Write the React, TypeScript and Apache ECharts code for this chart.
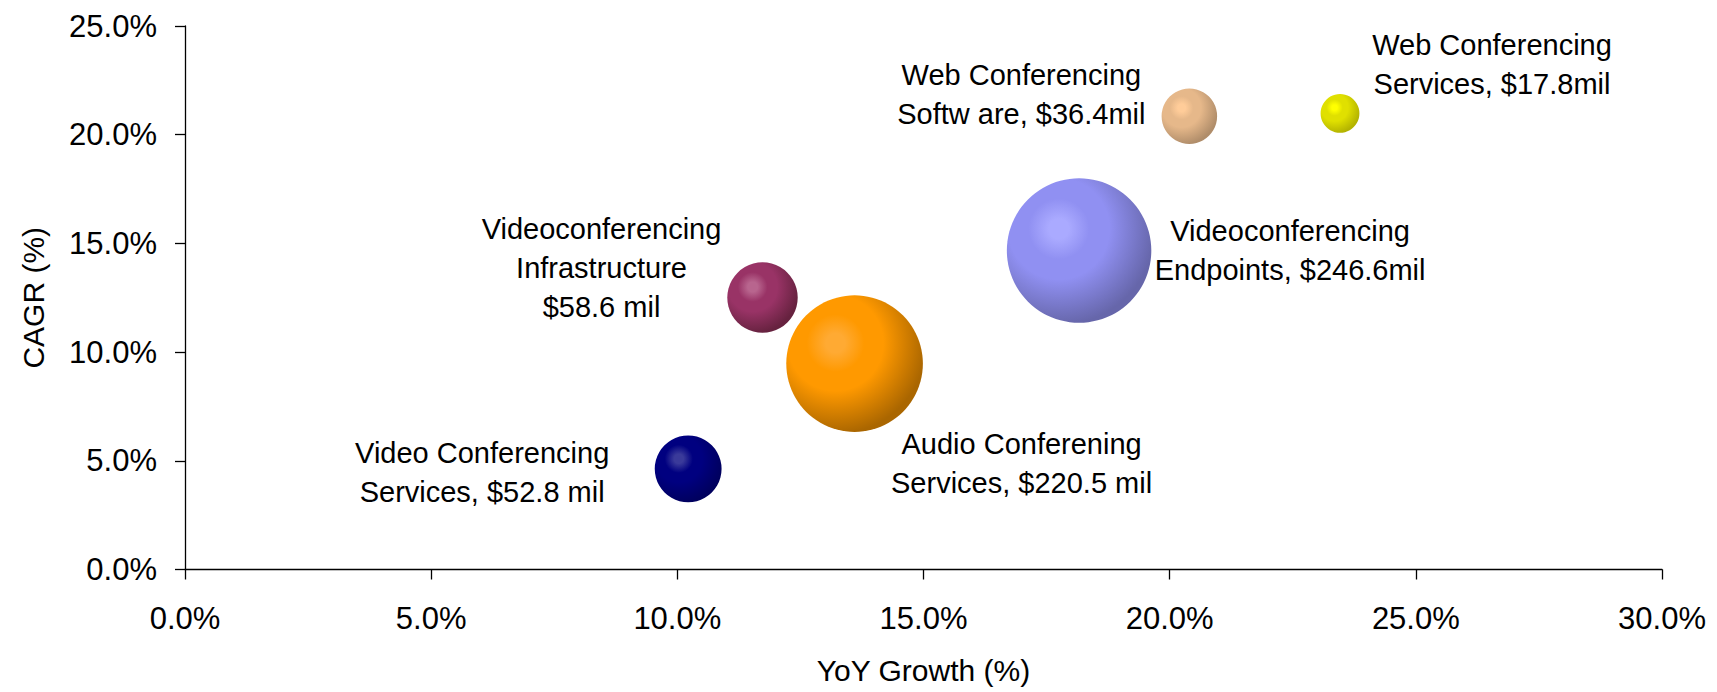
import React, { useEffect, useRef } from "react";
import * as echarts from "echarts";

// Market segments
const names = [
  "Video Conferencing\nServices, $52.8 mil",
  "Videoconferencing\nInfrastructure\n$58.6 mil",
  "Audio Conferening\nServices, $220.5 mil",
  "Videoconferencing\nEndpoints, $246.6mil",
  "Web Conferencing\nSoftw are, $36.4mil",
  "Web Conferencing\nServices, $17.8mil",
];
// YoY growth (%)
const yoyGrowth = [10.22, 11.73, 13.6, 18.16, 20.4, 23.46];
// CAGR (%)
const cagr = [4.63, 12.51, 9.47, 14.67, 20.85, 20.98];
// Revenue ($ mil) -> bubble size
const revenue = [52.8, 58.6, 220.5, 246.6, 36.4, 17.8];

const xTicks = { min: 0, max: 30, interval: 5 };
const yTicks = { min: 0, max: 25, interval: 5 };

// styling (not data)
const palette = [
  ["#3a3a9a", "#000080", "#00005e"],
  ["#b8658e", "#993366", "#66223f"],
  ["#ffaa33", "#ff9900", "#aa6600"],
  ["#aaaaff", "#9090f2", "#6666aa"],
  ["#ffcc99", "#e6b88a", "#b08d6a"],
  ["#ffff00", "#e0e000", "#b3b300"],
];
const labelOffsets = [
  [-206, 4],
  [-161, -30],
  [167, 100],
  [211, 0],
  [-168, -22],
  [152, -49],
];

const FONT = "'Liberation Sans', Arial, sans-serif";

export default function App() {
  const ref = useRef<HTMLDivElement>(null);
  useEffect(() => {
    if (!ref.current) return;
    const chart = echarts.init(ref.current, null, { renderer: "svg" });
    const data = names.map((n, i) => ({
      name: n,
      value: [yoyGrowth[i], cagr[i], revenue[i]],
      itemStyle: {
        opacity: 1,
        color: new echarts.graphic.RadialGradient(0.36, 0.35, 0.7, [
          { offset: 0, color: palette[i][0] },
          { offset: 0.1, color: palette[i][0] },
          { offset: 0.3, color: palette[i][1] },
          { offset: 0.5, color: palette[i][1] },
          { offset: 0.95, color: palette[i][2] },
          { offset: 1, color: palette[i][2] },
        ]),
      },
      label: {
        offset: labelOffsets[i],
      },
    }));
    chart.setOption({
      animation: false,
      textStyle: { fontFamily: FONT },
      grid: { left: 185, right: 55, top: 26, bottom: 122.5, containLabel: false },
      xAxis: {
        type: "value",
        ...xTicks,
        name: "YoY Growth (%)",
        nameLocation: "middle",
        nameGap: 86,
        nameTextStyle: { fontSize: 30, color: "#000", fontFamily: FONT },
        axisLine: { show: true, lineStyle: { color: "#000", width: 1.3 } },
        axisTick: { show: true, length: 10, lineStyle: { color: "#000", width: 1.3 } },
        axisLabel: {
          fontSize: 31,
          color: "#000",
          margin: 33,
          fontFamily: FONT,
          formatter: (v: number) => v.toFixed(1) + "%",
        },
        splitLine: { show: false },
      },
      yAxis: {
        type: "value",
        ...yTicks,
        name: "CAGR (%)",
        nameLocation: "middle",
        nameGap: 137,
        nameTextStyle: { fontSize: 30, color: "#000", fontFamily: FONT },
        axisLine: { show: true, lineStyle: { color: "#000", width: 1.3 } },
        axisTick: { show: true, length: 10, lineStyle: { color: "#000", width: 1.3 } },
        axisLabel: {
          fontSize: 31,
          color: "#000",
          margin: 28,
          fontFamily: FONT,
          formatter: (v: number) => v.toFixed(1) + "%",
        },
        splitLine: { show: false },
      },
      series: [
        {
          type: "scatter",
          data,
          symbol: "circle",
          symbolSize: (val: number[]) => 9.2 * Math.sqrt(val[2]),
          itemStyle: { opacity: 1 },
          label: {
            show: true,
            position: "inside",
            formatter: (p: any) => p.name,
            color: "#000",
            fontSize: 29,
            lineHeight: 39,
            align: "center",
            verticalAlign: "middle",
            fontFamily: FONT,
          },
          emphasis: { disabled: true },
        },
      ],
    });
    return () => chart.dispose();
  }, []);
  return (
    <div
      ref={ref}
      style={{ position: "absolute", left: 0, top: 0, width: 1717, height: 692, background: "#fff" }}
    />
  );
}
